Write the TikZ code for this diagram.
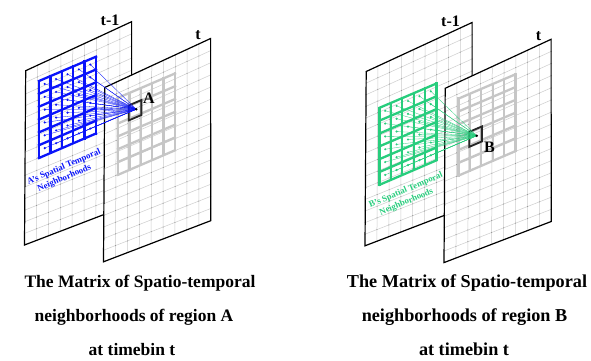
\documentclass[tikz,border=0pt]{standalone}
\usepackage{fontspec}
\setmainfont{Liberation Serif}
\usetikzlibrary{calc}
\definecolor{nbblue}{RGB}{10,20,250}
\definecolor{nbgreen}{RGB}{40,205,125}
\definecolor{finegrid}{RGB}{205,205,205}
\definecolor{griddot}{RGB}{140,140,140}
\definecolor{cellgrey}{RGB}{198,198,198}
\tikzset{
  fineline/.style={draw=finegrid, line width=0.5pt},
  panelborder/.style={draw=black, line width=1.2pt, line join=miter},
  thickcell/.style={line width=2.3pt, line cap=rect},
  fanline/.style={line width=0.3pt},
  biglabel/.style={font=\bfseries\fontsize{16}{16}\selectfont, inner sep=0pt},
  smalllabel/.style={font=\bfseries\fontsize{8.8}{9}\selectfont, inner sep=0pt, rotate=23},
  caption/.style={font=\bfseries\fontsize{17.5}{17.5}\selectfont, inner sep=0pt, anchor=base}
}
\newcommand{\setbil}[7]{\coordinate (#7) at ($($(#1)!#6!(#4)$)!#5!($(#2)!#6!(#3)$)$);}
\newcommand{\drawpanel}[4]{%
  \fill[white] (#1)--(#2)--(#3)--(#4)--cycle;
  \foreach \i in {1,...,8}{\draw[fineline] ($(#1)!\i/9!(#2)$) -- ($(#4)!\i/9!(#3)$);}
  \foreach \j in {1,...,14}{\draw[fineline] ($(#1)!\j/15!(#4)$) -- ($(#2)!\j/15!(#3)$);}
  \foreach \i in {0,...,9}{\foreach \j in {0,...,15}{%
     \fill[griddot] ($($(#1)!\j/15!(#4)$)!\i/9!($(#2)!\j/15!(#3)$)$) circle (0.5);}}
  \draw[panelborder] (#1)--(#2)--(#3)--(#4)--cycle;
}
\newcommand{\drawcells}[5]{%
  \foreach \i in {0,...,5}{\draw[thickcell,#5] ($(#1)!\i/5!(#2)$) -- ($(#4)!\i/5!(#3)$);}
  \foreach \j in {0,...,6}{\draw[thickcell,#5] ($(#1)!\j/6!(#4)$) -- ($(#2)!\j/6!(#3)$);}
}
% #1 colour, #2 vertical shift of coloured grid, #3 target row, #4 letter, #5 letter position, #6/#7 label line positions
\newcommand{\onefig}[7]{%
  \coordinate (P1) at (25.7,70.7);
  \coordinate (P2) at (131.6,21.7);
  \coordinate (P3) at (131.7,203.9);
  \coordinate (P4) at (24.5,245);
  \coordinate (Q1) at (104.7,87.5);
  \coordinate (Q2) at (210.6,38.5);
  \coordinate (Q3) at (210.7,220.7);
  \coordinate (Q4) at (103.5,261.8);
  \coordinate (G1) at (39,{81+#2});
  \coordinate (G2) at (96,{56.7+#2});
  \coordinate (G3) at (96,{133.5+#2});
  \coordinate (G4) at (39,{158+#2});
  \coordinate (H1) at (118,97.8);
  \coordinate (H2) at (175,73.5);
  \coordinate (H3) at (175,150.3);
  \coordinate (H4) at (118,174.8);
  % panel t-1
  \drawpanel{P1}{P2}{P3}{P4}
  \node[biglabel] (lbl-tm) at (110,20) {t-1};
  % coloured neighbourhood grid
  \drawcells{G1}{G2}{G3}{G4}{draw=#1}
  \foreach \c in {0,...,4}{\foreach \r in {0,...,5}{%
    \pgfmathsetmacro\uu{(\c+0.5)/5}\pgfmathsetmacro\vv{(\r+0.42)/6}%
    \setbil{G1}{G2}{G3}{G4}{\uu}{\vv}{d\c\r}
    \fill[#1] (d\c\r) circle (1.2);}}
  % panel t
  \drawpanel{Q1}{Q2}{Q3}{Q4}
  \node[biglabel] (lbl-t) at (198,35) {t};
  \drawcells{H1}{H2}{H3}{H4}{draw=cellgrey}
  % target cell
  \pgfmathsetmacro\va{(#3-0.05)/6}\pgfmathsetmacro\vb{(#3+1.12)/6}\pgfmathsetmacro\vc{(#3+0.5)/6}%
  \setbil{H1}{H2}{H3}{H4}{0.19}{\va}{S1}
  \setbil{H1}{H2}{H3}{H4}{0.41}{\va}{S2}
  \setbil{H1}{H2}{H3}{H4}{0.41}{\vb}{S3}
  \setbil{H1}{H2}{H3}{H4}{0.19}{\vb}{S4}
  \setbil{H1}{H2}{H3}{H4}{0.32}{\vc}{T}
  \draw[draw=black!85, line width=1.8pt, line join=miter] (S1)--(S2)--(S3)--(S4)--cycle;
  \foreach \c in {0,...,4}{\foreach \r in {0,...,5}{%
    \draw[fanline,#1] (T) -- (d\c\r);}}
  \fill[black] (T) circle (1.4);
  \node[biglabel] (lbl-target) at #5 {#4};
  \node[smalllabel, text=#1] (lbl-nb1) at #6 {#4's Spatial Temporal};
  \node[smalllabel, text=#1] (lbl-nb2) at #7 {Neighborhoods};
}
\begin{document}
\begin{tikzpicture}[x=1pt,y=-1pt]
\useasboundingbox (0,0) rectangle (591,361);
\fill[white] (0,0) rectangle (591,361);
\begin{scope}
  \onefig{nbblue}{0}{1}{A}{(149,98.5)}{(64,167)}{(64.5,178.5)}
\end{scope}
\begin{scope}[shift={(340.5,0.8)}]
  \onefig{nbgreen}{26}{3}{B}{(149,146)}{(65.5,189.5)}{(66,201.5)}
\end{scope}
\node[caption] (capA1) at (140,287) {The Matrix of Spatio-temporal};
\node[caption] (capA2) at (134,321) {neighborhoods of region A};
\node[caption] (capA3) at (132,355) {at timebin t};
\node[caption, font=\bfseries\fontsize{18.2}{18.2}\selectfont] (capB1) at (467,287) {The Matrix of Spatio-temporal};
\node[caption, font=\bfseries\fontsize{18.2}{18.2}\selectfont] (capB2) at (464.5,321) {neighborhoods of region B};
\node[caption, font=\bfseries\fontsize{18.2}{18.2}\selectfont] (capB3) at (464,355) {at timebin t};
\end{tikzpicture}
\end{document}
